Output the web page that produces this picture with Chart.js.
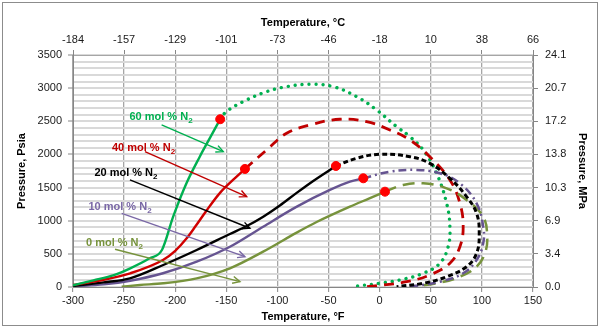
<!DOCTYPE html>
<html>
<head>
<meta charset="utf-8">
<script src="https://cdn.jsdelivr.net/npm/chart.js@4.4.1/dist/chart.umd.min.js"></script>
<style>
  body { margin: 0; background: #fff; }
  canvas { display: block; }
</style>
</head>
<body>
<canvas id="chart" width="600" height="328"></canvas>
<script>
// tick labels
let celsiusLabels = ["-184", "-157", "-129", "-101", "-73", "-46", "-18", "10", "38", "66"];
let psiTicks = [0, 500, 1000, 1500, 2000, 2500, 3000, 3500];
let mpaLabels = ["0.0", "3.4", "6.9", "10.3", "13.8", "17.2", "20.7", "24.1"];

// 60 mol % N2
let n60BubbleT = [-300, -280, -260, -244, -225, -213, -202, -189, -176, -166, -156];
let n60BubbleP = [25, 100, 180, 282, 433, 558, 1061, 1565, 1966, 2250, 2531];
let n60DewT = [-156, -150, -133.5, -110.6, -91, -68, -45.4, -22.5, -3, 16.6, 29.6, 42.6, 55.7, 65.5, 68.7, 67, 58.9, 42.6, 19.8, 0.2, -22.5];
let n60DewP = [2531, 2645, 2796, 2947, 3022, 3059, 3022, 2872, 2671, 2419, 2268, 2067, 1716, 1263, 910, 608, 358, 207, 106, 56, 15];

// 40 mol % N2
let n40BubbleT = [-300, -270, -244, -212, -200, -189, -180, -170, -156.2, -141, -131.8];
let n40BubbleP = [30, 110, 207, 407, 545, 730, 920, 1140, 1420, 1650, 1781];
let n40DewT = [-131.8, -110.6, -91, -68, -38.9, -12.8, 10, 29.6, 49, 68.7, 78.5, 81.7, 78.5, 68.7, 49, 26.4, 3.5, -12.8];
let n40DewP = [1781, 2067, 2319, 2445, 2531, 2495, 2369, 2218, 1966, 1615, 1263, 910, 608, 358, 181, 80, 30, 5];

// 20 mol % N2
let n20BubbleT = [-300, -270, -244.3, -211.7, -179, -146.5, -130, -113.9, -97.6, -81.2, -65, -42.8];
let n20BubbleP = [15, 70, 131, 332, 558, 800, 920, 1061, 1230, 1420, 1600, 1826];
let n20DewT = [-42.8, -22.5, 0.2, 29.6, 49, 68.7, 85, 94.8, 97.4, 94.8, 85, 65.5, 42.6, 16.6];
let n20DewP = [1826, 1942, 2002, 1966, 1866, 1640, 1363, 1112, 810, 508, 306, 155, 56, 5];

// 10 mol % N2
let n10BubbleT = [-300, -270, -244, -212, -179, -146.5, -114, -81, -48.7, -29.1, -16];
let n10BubbleP = [8, 40, 95, 207, 382, 608, 910, 1212, 1464, 1589, 1640];
let n10DewT = [-16, 10, 36, 58.9, 78.5, 94.8, 101.3, 101.3, 94.8, 81.7, 58.9, 29.6];
let n10DewP = [1640, 1740, 1766, 1716, 1565, 1263, 910, 659, 407, 207, 80, 5];

// 0 mol % N2
let n0BubbleT = [-252.4, -234.5, -211.7, -179, -146.5, -114, -81.2, -61.7, -29.1, -9.5, 5.2];
let n0BubbleP = [5, 30, 56, 131, 282, 533, 820, 980, 1212, 1340, 1438];
let n0DewT = [5.2, 23, 42.6, 65.5, 85, 101.3, 105.2, 103, 94.8, 78.5, 55.7, 29.6];
let n0DewP = [1438, 1539, 1565, 1489, 1313, 1061, 759, 508, 306, 155, 56, 5];

// critical points (red dots)
let critT = [-156, -131.8, -42.8, -16, 5.2];
let critP = [2531, 1781, 1826, 1640, 1438];

// notes: label centres and arrows
let noteNames = ["60 mol % N", "40 mol % N", "20 mol % N", "10 mol % N", "0 mol % N"];
let noteT = [-213.9, -231, -248.2, -254, -259.4];
let noteP = [2565, 2098, 1720, 1207, 664];
let arrowFromT = [-213.3, -229.6, -244.3, -252.4, -258.9];
let arrowFromP = [2445, 2042, 1615, 1112, 569];
let arrowToT = [-153, -130.1, -126.9, -131.8, -136.7];
let arrowToP = [2042, 1363, 886, 457, 80];

let green = "#00B050";
let red = "#D00000";
let purple = "#665491";
let olive = "#77933C";
let noteColors = [green, "#C00000", "#000000", "#7A68A6", olive];

function pts(t, p) {
  return t.map(function (v, i) { return { x: v, y: p[i] }; });
}

function line(t, p, color, width, dash, cap) {
  return {
    data: pts(t, p),
    showLine: true,
    borderColor: color,
    borderWidth: width,
    borderDash: dash || [],
    borderCapStyle: cap || "butt",
    pointRadius: 0,
    tension: 0.4,
    fill: false
  };
}

// bubble-point branches run left to right, so monotone keeps them smooth
function bubble(t, p, color) {
  let d = line(t, p, color, 2.4);
  d.cubicInterpolationMode = "monotone";
  return d;
}

let datasets = [
  {
    data: pts(critT, critP),
    showLine: false,
    pointRadius: 4.5,
    pointBackgroundColor: "#FF0000",
    pointBorderColor: "#FF0000"
  },
  line(n20DewT, n20DewP, "#000000", 3, [5, 3]),
  line(n10DewT, n10DewP, purple, 2.5, [8, 4, 2, 4]),
  line(n0DewT, n0DewP, olive, 2.5, [12, 7]),
  line(n40DewT, n40DewP, "#C00000", 2.8, [10, 7]),
  line(n60DewT, n60DewP, green, 3.4, [0.01, 7], "round"),
  bubble(n60BubbleT, n60BubbleP, green),
  bubble(n40BubbleT, n40BubbleP, red),
  bubble(n20BubbleT, n20BubbleP, "#000000"),
  bubble(n10BubbleT, n10BubbleP, purple),
  bubble(n0BubbleT, n0BubbleP, olive)
];

let notesPlugin = {
  id: "notes",
  afterDatasetsDraw(chart) {
    let ctx = chart.ctx;
    let x = chart.scales.x;
    let y = chart.scales.y;
    ctx.save();
    for (let i = 0; i < noteNames.length; i++) {
      let x1 = x.getPixelForValue(arrowFromT[i]);
      let y1 = y.getPixelForValue(arrowFromP[i]);
      let x2 = x.getPixelForValue(arrowToT[i]);
      let y2 = y.getPixelForValue(arrowToP[i]);
      ctx.strokeStyle = noteColors[i];
      ctx.lineWidth = 1.4;
      ctx.beginPath();
      ctx.moveTo(x1, y1);
      ctx.lineTo(x2, y2);
      ctx.stroke();
      let a = Math.atan2(y2 - y1, x2 - x1);
      ctx.beginPath();
      ctx.moveTo(x2 - 8 * Math.cos(a - 0.45), y2 - 8 * Math.sin(a - 0.45));
      ctx.lineTo(x2, y2);
      ctx.lineTo(x2 - 8 * Math.cos(a + 0.45), y2 - 8 * Math.sin(a + 0.45));
      ctx.stroke();

      // label with subscript 2
      ctx.fillStyle = noteColors[i];
      ctx.textBaseline = "middle";
      ctx.textAlign = "left";
      ctx.font = 'bold 11px "Liberation Sans"';
      let w1 = ctx.measureText(noteNames[i]).width;
      ctx.font = 'bold 8px "Liberation Sans"';
      let w2 = ctx.measureText("2").width;
      let cx = x.getPixelForValue(noteT[i]);
      let cy = y.getPixelForValue(noteP[i]);
      let left = cx - (w1 + w2) / 2;
      ctx.font = 'bold 11px "Liberation Sans"';
      ctx.fillText(noteNames[i], left, cy);
      ctx.font = 'bold 8px "Liberation Sans"';
      ctx.fillText("2", left + w1, cy + 4);
    }
    ctx.restore();
  },
  afterDraw(chart) {
    let ctx = chart.ctx;
    ctx.save();
    ctx.strokeStyle = "#8c8c8c";
    ctx.lineWidth = 1;
    ctx.strokeRect(2.5, 2.5, 595, 323);
    ctx.restore();
  }
};

let tickFont = { family: "Liberation Sans", size: 11 };
let titleFont = { family: "Liberation Sans", size: 11, weight: "bold" };
let tickColor = "#1a1a1a";

new Chart(document.getElementById("chart"), {
  type: "scatter",
  data: { datasets: datasets },
  options: {
    responsive: false,
    animation: false,
    layout: { padding: 0 },
    plugins: { legend: { display: false }, tooltip: { enabled: false } },
    scales: {
      x: {
        type: "linear",
        position: "bottom",
        min: -300,
        max: 150,
        ticks: { stepSize: 50, font: tickFont, color: tickColor, padding: 2, maxRotation: 0, autoSkip: false,
          callback: function (v) { return String(v); } },
        grid: { color: "#a6a6a6", lineWidth: 1.3, tickLength: 5, tickColor: "#868686", tickWidth: 1 },
        border: { color: "#868686", width: 1 },
        title: { display: true, text: "Temperature, °F", font: titleFont, color: "#000", padding: { top: 0, bottom: 4 } },
        afterFit: function (s) { s.height = 41; }
      },
      xTop: {
        type: "linear",
        axis: "x",
        position: "top",
        min: -300,
        max: 150,
        ticks: { stepSize: 50, font: tickFont, color: tickColor, padding: 3, maxRotation: 0, autoSkip: false,
          callback: function (v, i) { return celsiusLabels[i]; } },
        grid: { drawOnChartArea: false, tickLength: 5, color: "#868686", tickWidth: 1 },
        border: { color: "#a6a6a6", width: 1 },
        title: { display: true, text: "Temperature, °C", font: titleFont, color: "#000", padding: { top: 16, bottom: 0 } },
        afterFit: function (s) { s.height = 55; }
      },
      y: {
        type: "linear",
        position: "left",
        min: 0,
        max: 3500,
        ticks: { stepSize: 100, font: tickFont, color: tickColor, padding: 6, autoSkip: false,
          callback: function (v) { return psiTicks.includes(v) ? String(v) : ""; } },
        grid: {
          color: "#d9d9d9",
          lineWidth: 2,
          tickLength: 5,
          tickWidth: 1,
          tickColor: function (c) { return c.tick && psiTicks.includes(c.tick.value) ? "#868686" : "rgba(0,0,0,0)"; }
        },
        border: { color: "#868686", width: 1 },
        title: { display: true, text: "Pressure, Psia", font: titleFont, color: "#000", padding: { top: 15, bottom: 0 } },
        afterFit: function (s) { s.width = 73; }
      },
      yRight: {
        type: "linear",
        axis: "y",
        position: "right",
        min: 0,
        max: 3500,
        ticks: { stepSize: 500, font: tickFont, color: tickColor, padding: 7, autoSkip: false,
          callback: function (v, i) { return mpaLabels[i]; } },
        grid: { drawOnChartArea: false, tickLength: 5, color: "#868686", tickWidth: 1 },
        border: { color: "#868686", width: 1 },
        title: { display: true, text: "Pressure, MPa", font: titleFont, color: "#000", padding: { top: 11, bottom: 0 } },
        afterFit: function (s) { s.width = 67; }
      }
    }
  },
  plugins: [notesPlugin]
});
</script>
</body>
</html>
